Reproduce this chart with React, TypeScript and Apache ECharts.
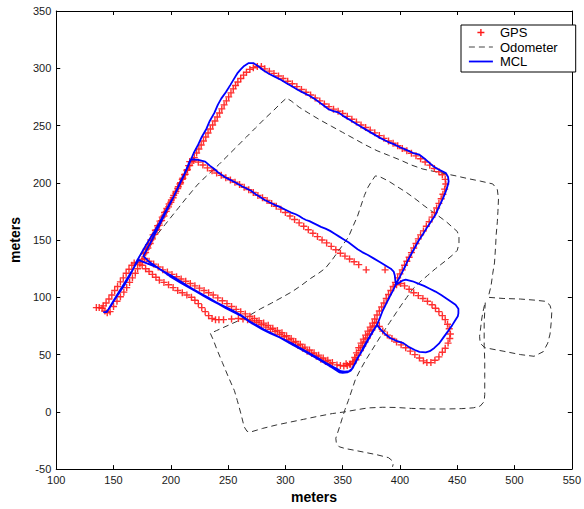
import React, { useEffect, useRef } from "react";
import * as echarts from "echarts";

// ---------- axis ticks ----------
const xTicks = { min: 100, max: 550, interval: 50 };
const yTicks = { min: -50, max: 350, interval: 50 };

// ---------- GPS fixes (red +) ----------
const gpsStart: number[][] = [
  [135, 91], [137.5, 91], [140, 90.5], [142.5, 88], [144.5, 86.5], [147, 87.5], [150, 92], [153, 96.5],
  [156, 100.5], [159, 104.5], [161.5, 108.5], [164, 113], [166.5, 117], [169, 121], [171, 125], [173, 129], [175, 133],
];
const gpsLeftEdge: number[][] = [
  [176.5, 138], [178.5, 142], [180.5, 146], [182.5, 150], [184.5, 154.5], [186.5, 158.5], [188.5, 162.5], [190.5, 166.5],
  [192.5, 170], [194.5, 174], [196.5, 177.5], [198.5, 181.5], [200.5, 185], [202.5, 189], [204.5, 192.5], [206.5, 196.5],
  [208.5, 200], [210.5, 204], [212.5, 207.5], [214.5, 211.5], [216.5, 215], [218.5, 218.5], [220.5, 222], [222.5, 226],
  [224.5, 229.5], [226.5, 233], [228.5, 236.5], [230.5, 240], [232.5, 243.5], [234.5, 247], [236.5, 250.5], [238.5, 254],
  [240.5, 257.5], [242.5, 261], [244.5, 264.5], [246.5, 268], [248.5, 271.5], [250.5, 275], [252.5, 278.5], [254.5, 282],
  [256.5, 285], [258.5, 288], [261, 291], [263.5, 294], [266, 296.5], [269, 299], [272, 300.5], [275.5, 301.5], [279, 301.5],
];
const gpsTopEdge: number[][] = [
  [282, 299.5], [286, 297.5], [290, 295.5], [294, 293.3], [298, 291], [302, 288.7], [306, 286.5], [310, 284],
  [314, 281.5], [318, 279], [322, 276.7], [326, 274], [330, 271.5], [334, 268.8], [338, 266.5], [342, 264.3],
  [346, 262.5], [350, 260.5], [354, 258], [358, 255.5], [362, 253], [366, 250.5], [370, 248.3], [374, 246],
  [378, 243.6], [382, 241.2], [386, 238.8], [390, 236.5], [394, 234.5], [398, 232.3], [402, 230], [406, 228],
  [410, 225.8], [414, 223.5], [418, 221], [422, 218.2], [426, 215.4], [430, 212.5], [434, 209.6], [437, 207],
];
const gpsRightEdge: number[][] = [
  [439.5, 203], [440, 199], [439, 194.5], [437.5, 190], [436, 186], [434, 182], [432, 178], [430, 174],
  [428, 170], [425.5, 166], [423, 162], [420.5, 158], [418, 154.5], [416, 151], [414, 147], [412, 143],
  [410, 139], [408, 135], [406, 131.5], [404, 128], [402, 124], [400, 120.5], [398, 117], [396, 113],
  [394, 109.5], [392, 106], [390, 102.5], [388, 99], [386, 95], [384, 91.5], [382, 88], [380, 84.5],
  [378, 81], [376, 77.5], [374, 74], [372, 70.5], [370, 67], [368, 63.5], [366, 60], [364, 56],
  [362, 51.5], [360.5, 47.5], [359, 44], [357, 41.5], [354, 40.5], [351, 40], [348, 40.5], [345, 41],
];
const gpsBottomEdge: number[][] = [
  [341, 43], [337, 45], [333, 47], [329, 49.5], [325, 51.5], [321, 54], [317, 56.5], [313, 59],
  [309, 61.5], [305, 64], [301, 66.5], [297, 69], [293, 71], [289, 73], [285, 75.5], [281, 77.5],
  [277, 79.5], [273, 81.5], [269, 83.5], [265, 85.5], [261, 87.5], [257, 89.5], [253, 92], [249, 94.5],
  [245, 97], [241, 99.5], [237, 102], [233, 104], [229, 106], [225, 108], [221, 110], [217, 112],
  [213, 114], [209, 116], [205, 118], [201, 120], [197, 122], [193, 124], [189, 126.5], [185, 129],
  [181, 131.5], [177, 134],
];
const gpsLeftEdge2: number[][] = [
  [178, 139], [180, 143], [182, 147], [184, 151], [186, 155], [188, 159], [190, 163], [192, 167],
  [194, 171], [196, 175], [198, 179], [200, 183], [202, 187], [204, 191], [206, 195], [208, 199],
  [210, 203], [212, 207], [214, 211], [215.5, 215],
];
const gpsMiddleEdge: number[][] = [
  [216.5, 218.5], [220, 219.5], [224, 218], [228, 215.5], [232, 213], [236, 210.5], [240, 208.5], [244, 206.5],
  [248, 204.5], [252, 202.5], [256, 200.5], [260, 198.5], [264, 196], [268, 194], [272, 191.5], [276, 189],
  [280, 187], [284, 184.5], [288, 182], [292, 179.5], [296, 177], [300, 174], [304, 171], [308, 168],
  [312, 165], [316, 162], [320, 159], [324, 156], [328, 153], [332, 150], [336, 147.5], [340, 144.5],
  [344, 141.5], [348, 138.5], [352, 136], [356, 133.5], [360, 131], [364, 128.5], [370.5, 124], [387, 124],
];
const gpsLoop: number[][] = [
  [397, 111], [400.5, 112], [404, 110], [408, 107], [412, 104], [416, 101.5], [420, 99], [424, 96.5],
  [428, 93.5], [431, 90.5], [434, 87.5], [437, 84], [439.5, 80.5], [441.5, 76.5], [443, 72.5], [444, 68],
  [443.5, 64], [442, 60], [439.5, 55.5], [437, 52], [434, 48], [430.5, 45], [427, 43], [423.5, 43],
  [420.5, 44.5], [417, 47], [413, 50], [409, 53], [405, 56], [401, 58.5], [397, 61], [393, 64],
  [389, 67], [385, 70.5], [382, 74.5], [379.5, 78],
];
const gpsReturn: number[][] = [
  [377.5, 75], [375.5, 71.5], [373.5, 68], [371.5, 64.5], [369.5, 61], [367.5, 57.5], [365.5, 53.5], [363.5, 49.5],
  [361.5, 45.5], [359, 42.5], [356, 41.5], [353, 42], [339, 42], [335, 44], [331, 46], [327, 48.5],
  [323, 51], [319, 53], [315, 55.5], [311, 58], [307, 60.5], [303, 63], [299, 65.5], [295, 67.5],
  [291, 70], [287, 72], [283, 74], [279, 76], [275, 78], [271, 79.5], [267, 80.5], [263, 81],
  [259, 81.5], [253, 81], [246, 80.5], [242, 80.5], [239, 80.5], [236, 81.5], [233, 84], [230, 87.5],
  [227, 91], [224, 94.5], [221, 97.5], [218, 100], [214, 102], [210, 104], [206, 106], [202, 108.5],
  [198, 111], [194, 113], [190, 115], [187, 117.5], [184, 120], [181, 122.5], [178, 125], [175, 128],
  [171, 130.5], [168, 130], [166, 128], [163.5, 124.5], [161, 121], [158.5, 117], [156, 113.5], [153.5, 109.5],
  [151, 106], [148.5, 102], [146, 98.5], [143.5, 95], [141, 92.5],
];

// ---------- Odometer (dashed) ----------
const odoPath: number[][] = [
  [172, 135], [177, 141], [183, 148.5], [189, 156], [195, 163.5], [201, 171], [207, 178.5], [213, 186],
  [218, 192], [223, 198], [228, 203], [235, 209.5], [242, 216], [250, 224], [258, 232], [266, 240],
  [274, 248], [282, 256], [290, 263.5], [296, 269.5], [301, 274], [305, 271.5], [312, 266], [320, 261],
  [330, 255], [340, 249.5], [350, 244], [360, 238.5], [370, 233], [380, 228], [390, 224], [400, 220],
  [410, 215.5], [420, 212], [434, 209], [448, 206.2], [460, 203.5], [470, 201.5], [481, 199], [485, 194],
  [486, 186], [485.5, 175], [485, 166], [484, 155], [483.5, 145], [482.5, 130], [481, 121], [479.5, 110],
  [477, 100], [490, 99], [505, 98.5], [518, 97.5], [527, 96.5], [531, 93], [532.5, 87], [532, 78],
  [531, 68], [529, 60], [525, 52.5], [517, 48.5], [505, 50], [490, 53], [474, 56], [470, 60],
  [469.5, 66], [470.5, 74], [471.5, 82], [473, 90], [474.5, 96], [474, 88], [473.5, 78], [473.5, 68],
  [473.5, 58], [474, 45], [474, 30], [474, 15], [473.5, 9], [470, 5], [464, 3.5], [454, 2.8],
  [440, 2.5], [425, 2.5], [410, 3], [397, 3.8], [385, 4], [372, 3.4], [362, 1.8], [352, 0],
  [341, -1.5], [328, -4], [316, -6.5], [304, -9], [292, -11.5], [280, -14.5], [270, -17.5], [266.5, -17],
  [264, -13], [261, -1], [258, 10], [255.5, 18.5], [250, 31], [245, 43], [240, 55], [237, 63],
  [234.5, 68.5], [240, 71], [250, 75.5], [260, 80], [270, 85], [278, 89.8], [288, 95], [298, 100.5],
  [306, 105], [314, 110.5], [322, 116.5], [329, 121], [335, 125.5], [341, 133], [346, 140], [351, 147],
  [355, 152.5], [359, 162], [363, 171], [366, 180], [369, 189], [372, 196], [375, 201], [378.5, 206],
  [382, 205.5], [390, 201.5], [397, 197], [405, 192], [414, 185.5], [421, 180], [428, 175], [435, 170],
  [441, 165.5], [446, 161], [450, 157.5], [451.5, 153], [451.5, 147], [450, 141], [446, 137], [440, 132],
  [431, 125], [424, 119], [417, 113], [411, 107], [406, 100], [401, 93], [397, 87], [391, 78],
  [385, 69], [380, 61], [375, 53], [370, 45], [365, 36], [361, 28], [358, 19], [355, 10],
  [352, 2], [349.5, -6], [347, -14], [344, -23], [344.5, -27.5], [347, -30.5], [352, -32], [360, -33.5],
  [370, -35.5], [380, -37.5], [390, -40], [393, -42.5], [394, -46], [393.5, -48],
];

// ---------- MCL (blue) ----------
const mclOut: number[][] = [
  [141, 87], [144, 87], [148, 93], [152, 99.5], [156, 105.5], [160, 111.5], [164, 118.5], [167, 124.5],
  [170, 131], [174, 138], [178, 145], [182, 151.5], [186, 158], [190, 165], [194, 172.5], [198, 180],
  [202, 187], [205, 193], [208, 199.5], [211, 205.5], [214, 212], [217, 219], [220, 226], [224, 233.5],
  [227, 240], [231, 247], [234, 254], [238, 261], [241, 268], [244, 273.5], [248, 279], [252, 285.5],
  [255, 290.5], [258, 295.5], [261, 299], [264, 302], [268, 304.5], [272, 304.5], [276, 302], [281, 298],
  [286, 295], [291, 292.5], [296, 290], [301, 287], [306, 284], [311, 281], [316, 278.5], [321, 276],
  [326, 273], [330, 270], [334, 267], [338, 264], [342, 262.5], [346, 261.5], [351, 258], [356, 255],
  [361, 252], [366, 249], [371, 246], [377, 242.5], [383, 239], [389, 236], [395, 233.5], [400, 231],
  [406, 228.5], [411.5, 226], [417, 224.5], [421, 221.5], [425, 218], [429, 214.5], [433, 212], [437, 210],
  [440, 208.5], [442, 205], [442.5, 201], [441.5, 197], [440, 192.5], [438, 187.5], [436, 183], [434, 179],
  [431, 172], [428, 167.5], [424, 161.5], [420, 155], [416, 149], [413, 143.5], [410, 138], [407, 132.5],
  [405, 128], [403, 124], [400, 118], [397, 112.5], [394, 106], [391, 100.5], [388, 94.5], [385, 88.5],
  [382.5, 82], [380, 76], [377, 71], [374, 66], [371, 60.5], [368, 55], [365, 50], [363, 47],
  [361, 43], [359, 38.5], [357, 36], [354, 34.5], [350, 34], [347, 34.5], [344, 36.5], [341, 38.5],
  [336, 41.5], [332, 44], [326, 47.5], [320, 51], [313, 55], [306.5, 58.5], [300, 62], [294, 65.5],
  [287, 68.5], [280, 72], [274, 75.5], [268, 79], [261, 84], [254, 87.5], [248, 90.5], [242, 94],
  [236, 97], [229, 101], [222, 105], [215, 109], [208, 113], [203, 116], [199, 118.5], [194, 122],
  [189, 125.5], [184, 129], [180, 132], [176, 136],
];
const mclMiddle: number[][] = [
  [179, 141.5], [182, 147], [185, 153], [188, 159], [191, 165], [194, 171], [197, 177], [200, 183],
  [203, 189], [206, 195.5], [209, 202], [212, 208], [214.5, 214], [217, 220], [220, 220.5], [224, 220],
  [230, 218.5], [234, 215], [238, 212], [242, 208.5], [247, 205], [251, 203], [256, 200.5], [262, 197],
  [266, 195], [270, 193], [274, 190], [278, 187.5], [282, 185], [286, 183], [290, 181], [295, 179],
  [300, 176.5], [305, 174], [309, 172.5], [312, 171], [315, 169], [318, 167.5], [321, 166.5], [324, 165],
  [328, 163], [331, 161.5], [335, 160], [339, 158], [343, 155.5], [347, 153], [351, 150.5], [355, 148],
  [359, 145], [363, 142], [367, 139.5], [372, 137], [377, 134], [382, 131], [387, 128], [392, 125],
  [394.5, 122.5], [395.5, 119], [396, 115], [396.5, 111],
];
const mclLoop: number[][] = [
  [399, 112.5], [402, 114.5], [405, 115.5], [411, 114], [416, 112], [421, 110], [426, 107.5], [431, 105],
  [436, 102], [440.5, 99], [445, 96], [448.5, 93.5], [451, 90], [451, 86], [450.5, 83.5], [448, 79.5],
  [445.5, 75.5], [442, 70.5], [438, 65], [434, 59.5], [430, 55.8], [426, 53], [422.5, 52], [417, 52.3],
  [413, 54], [408, 56.5], [403, 60], [397, 62], [391.5, 64.5], [387, 68], [383, 72], [380, 76],
];
const mclBack: number[][] = [
  [377, 71.5], [374, 66.5], [371, 61.5], [368, 56], [365.5, 51], [363, 46.5], [360.5, 41.5], [358, 37.5],
  [355.5, 35.5], [352, 35], [348.5, 35.5], [345, 37.5], [341, 39.5], [336, 42.5], [330, 46], [323, 50],
  [316, 54], [309, 58], [302, 61.5], [295, 65], [288, 68.5], [281, 72], [275, 75.5], [268, 79.5],
  [261, 84.5], [254, 88.5], [247, 92], [240, 95.5], [233, 99.5], [225, 104], [217, 108.5], [209, 113.5],
  [201, 118.5], [194, 122.5], [188, 126], [182, 128.5], [177, 130.5], [172, 132.5], [169, 128], [166, 123],
  [162, 116.5], [158, 110], [154, 103.5], [150, 97], [147, 92], [145, 88.5], [143, 87],
];

const FONT = "'Liberation Sans', Arial, Helvetica, sans-serif";
const PLUS = "path://M4,0h2v4h4v2h-4v4h-2v-4h-4v-2h4z";
// legend icon: small plus centred in a 24x13 box (the two leading moves set the box)
const PLUS_LEGEND =
  "path://M0,0M24,13M11.3,3h1.4v2.8h2.8v1.4h-2.8v2.8h-1.4v-2.8h-2.8v-1.4h2.8z";

export default function App() {
  const ref = useRef<HTMLDivElement>(null);
  useEffect(() => {
    document.body.style.margin = "0";
    if (!ref.current) return;
    const chart = echarts.init(ref.current, undefined, { renderer: "svg" });
    const gps = [
      ...gpsStart, ...gpsLeftEdge, ...gpsTopEdge, ...gpsRightEdge, ...gpsBottomEdge,
      ...gpsLeftEdge2, ...gpsMiddleEdge, ...gpsLoop, ...gpsReturn,
    ];
    const mcl = [...mclOut, ...mclMiddle, ...mclLoop, ...mclBack];
    const axisLine = { onZero: false, lineStyle: { color: "#000", width: 1 } };
    const axisTick = { inside: true, length: 4, lineStyle: { color: "#000" } };
    const axisLabel = { fontSize: 11, color: "#1a1a1a", fontFamily: FONT };
    chart.setOption({
      animation: false,
      backgroundColor: "#fff",
      grid: { left: 50.5, right: 6, top: 11, bottom: 28, containLabel: false },
      legend: {
        left: 461,
        top: 25,
        orient: "vertical",
        backgroundColor: "#fff",
        borderColor: "#000",
        borderWidth: 1,
        borderRadius: 0,
        padding: [1, 18, 4, 7],
        itemGap: 1.5,
        itemWidth: 24,
        itemHeight: 13,
        textStyle: { fontSize: 13, color: "#000", fontFamily: FONT, padding: [0, 0, 0, 2] },
        data: [
          { name: "GPS", icon: PLUS_LEGEND, itemStyle: { color: "#ff0000" } },
          {
            name: "Odometer", itemStyle: { opacity: 0 },
            lineStyle: { width: 1, type: [6, 4], color: "#444" },
          },
          { name: "MCL", itemStyle: { opacity: 0 }, lineStyle: { width: 1.8, color: "#0000ff" } },
        ],
      },
      xAxis: [
        {
          type: "value", ...xTicks, position: "bottom",
          axisLine, axisTick, axisLabel: { ...axisLabel, margin: 5 },
          splitLine: { show: false },
          name: "meters", nameLocation: "middle", nameGap: 15,
          nameTextStyle: { fontWeight: "bold", fontSize: 14, color: "#000", fontFamily: FONT },
        },
        {
          type: "value", ...xTicks, position: "top",
          axisLine, axisTick, axisLabel: { show: false }, splitLine: { show: false },
        },
      ],
      yAxis: [
        {
          type: "value", ...yTicks, position: "left",
          axisLine, axisTick, axisLabel: { ...axisLabel, margin: 5 },
          splitLine: { show: false },
          name: "meters", nameLocation: "middle", nameGap: 24,
          nameTextStyle: { fontWeight: "bold", fontSize: 14, color: "#000", fontFamily: FONT },
        },
        {
          type: "value", ...yTicks, position: "right",
          axisLine, axisTick, axisLabel: { show: false }, splitLine: { show: false },
        },
      ],
      series: [
        {
          name: "GPS", type: "scatter", data: gps, symbol: PLUS, symbolSize: 7,
          itemStyle: { color: "#ff1a1a", opacity: 0.9 }, z: 2,
        },
        {
          name: "Odometer", type: "line", data: odoPath, symbol: "none", showSymbol: false,
          lineStyle: { color: "#333", width: 1, type: [6, 4] }, itemStyle: { color: "#333" }, z: 1,
        },
        {
          name: "MCL", type: "line", data: mcl, symbol: "none", showSymbol: false,
          lineStyle: { color: "#0000ff", width: 1.8 }, itemStyle: { color: "#0000ff" }, z: 3,
        },
      ],
    });
    return () => chart.dispose();
  }, []);
  return <div ref={ref} style={{ width: 584, height: 509 }} />;
}
